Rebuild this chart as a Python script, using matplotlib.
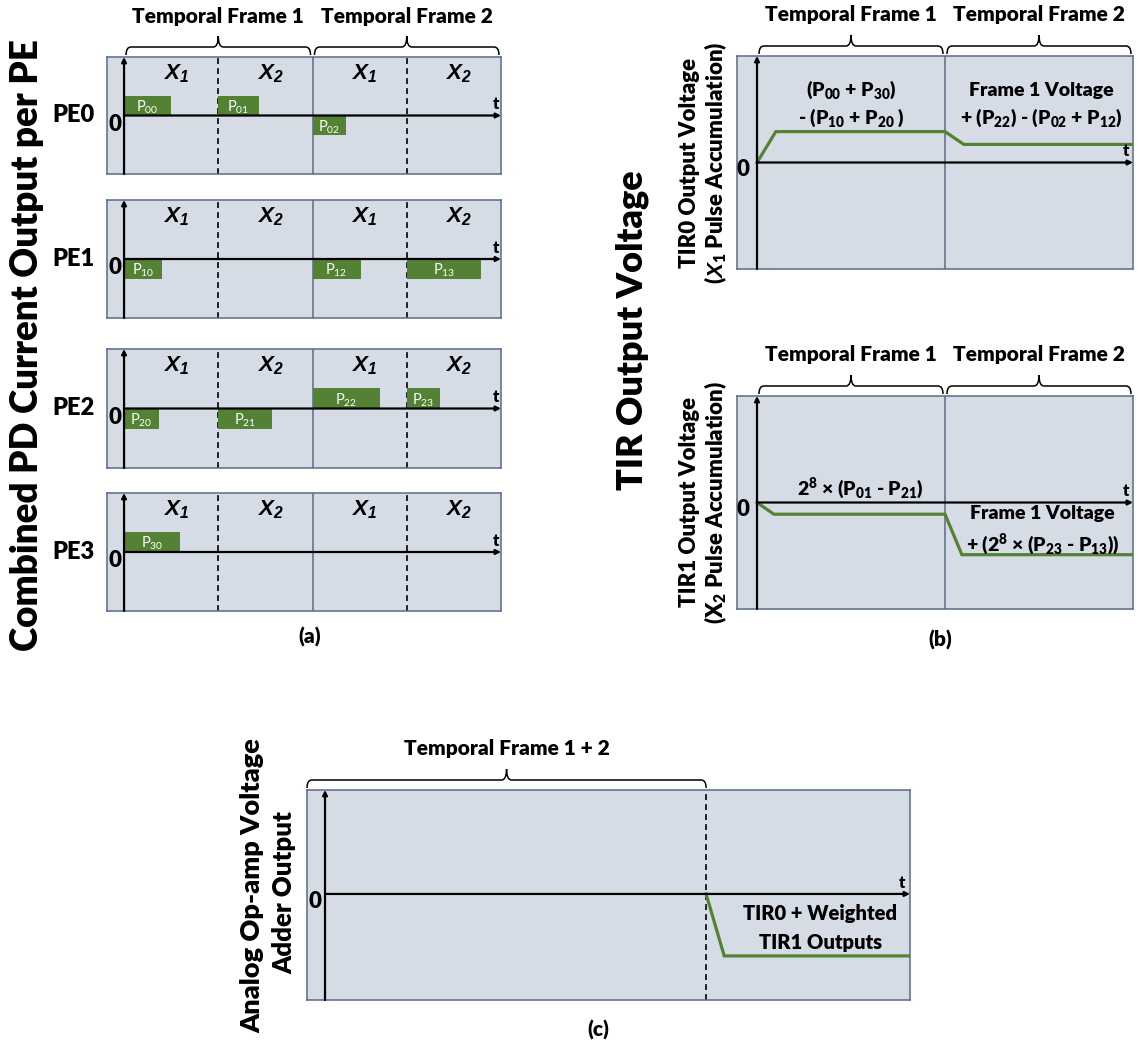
import matplotlib
matplotlib.use("Agg")
import matplotlib.pyplot as plt
from matplotlib.path import Path
from matplotlib.patches import PathPatch
from matplotlib.transforms import IdentityTransform

W, H = 1137, 1051
WT = 'heavy'
plt.rcParams['font.family'] = ['Lato', 'DejaVu Sans']
plt.rcParams['font.weight'] = WT
plt.rcParams['mathtext.fontset'] = 'custom'
plt.rcParams['mathtext.rm'] = 'Lato:' + WT
plt.rcParams['mathtext.it'] = 'Liberation Sans:bold:italic'
plt.rcParams['mathtext.bf'] = 'Lato:' + WT

# ---------------- data ----------------
# (a) photodetector current pulses per processing element
pe_names = ['PE0', 'PE1', 'PE2', 'PE3']
slot_labels = ['X$_{\\mathregular{1}}$', 'X$_{\\mathregular{2}}$',
               'X$_{\\mathregular{1}}$', 'X$_{\\mathregular{2}}$']
pulse_ids = [['00', '01', '02'], ['10', '12', '13'], ['20', '21', '22', '23'], ['30']]
pulse_starts = [[0, 1, 2], [0, 2, 3], [0, 1, 2, 3], [0]]          # slot index
pulse_widths = [[0.50, 0.43, 0.36], [0.40, 0.51, 0.79],
                [0.37, 0.57, 0.72, 0.35], [0.59]]                  # in slots
pulse_amps = [[0.34, 0.34, -0.34], [-0.34, -0.34, -0.34],
              [-0.34, -0.34, 0.34, 0.34], [0.34]]

# (b) TIR output voltages (time in frames)
tir0_t = [0.0, 0.10, 1.00, 1.10, 2.00]
tir0_v = [0.0, 0.29, 0.29, 0.17, 0.17]
tir1_t = [0.0, 0.09, 1.00, 1.09, 2.00]
tir1_v = [0.0, -0.11, -0.11, -0.49, -0.49]

# (c) op-amp adder output
adder_t = [2.00, 2.095, 3.07]
adder_v = [0.0, -0.59, -0.59]

frame_titles = ['Temporal Frame 1', 'Temporal Frame 2']

# ---------------- style ----------------
BG = '#D6DCE5'
EDGE = '#5A6A86'
GREEN = '#548235'
HDR = 15

fig = plt.figure(figsize=(W / 100, H / 100), dpi=100)
fig.patch.set_facecolor('white')


def px_axes(x0, y0, x1, y1):
    ax = fig.add_axes([x0 / W, 1 - y1 / H, (x1 - x0) / W, (y1 - y0) / H])
    ax.set_facecolor(BG)
    for s in ax.spines.values():
        s.set_color(EDGE)
        s.set_linewidth(1.1)
    ax.set_xticks([])
    ax.set_yticks([])
    return ax


def draw_axes_arrows(ax):
    x0, x1 = ax.get_xlim()
    y0, y1 = ax.get_ylim()
    kw = dict(arrowstyle='-|>', color='black', lw=1.6, mutation_scale=7,
              shrinkA=0, shrinkB=0)
    ax.annotate('', xy=(x1, 0), xytext=(0, 0), arrowprops=kw, annotation_clip=False)
    ax.annotate('', xy=(0, y1), xytext=(0, y0), arrowprops=kw, annotation_clip=False)


def brace(ax, xa, xb, inset=2, lo=2, mid=10, tip=21, r=5):
    Xa = ax.transData.transform((xa, 0))[0] + inset
    Xb = ax.transData.transform((xb, 0))[0] - inset
    top = ax.transAxes.transform((0, 1))[1]
    Xc = 0.5 * (Xa + Xb)
    yb, ym, yt = top + lo, top + mid, top + tip
    verts = [(Xa, yb), (Xa, ym), (Xa + r, ym), (Xc - r, ym),
             (Xc, ym), (Xc, yt), (Xc, ym), (Xc + r, ym),
             (Xb - r, ym), (Xb, ym), (Xb, yb)]
    codes = [Path.MOVETO, Path.CURVE3, Path.CURVE3, Path.LINETO,
             Path.CURVE3, Path.CURVE3, Path.CURVE3, Path.CURVE3,
             Path.LINETO, Path.CURVE3, Path.CURVE3]
    fig.add_artist(PathPatch(Path(verts, codes), fc='none', ec='black', lw=1.1,
                             transform=IdentityTransform()))


def header(ax, xc, text, off_px=40, size=HDR):
    ax.annotate(text, xy=(xc, 1), xycoords=('data', 'axes fraction'),
                xytext=(0, off_px * 0.72), textcoords='offset points',
                ha='center', va='center', fontsize=size, fontweight=WT,
                annotation_clip=False)


# ---------------- (a) ----------------
pe_boxes = [(57, 174), (200, 318), (349, 468), (493, 611)]
slot_px = 94.0
for i, (yt, yb) in enumerate(pe_boxes):
    ax = px_axes(107, yt, 501, yb)
    ax.set_xlim(-17 / slot_px, 4.0)
    ax.set_ylim(-1, 1)
    ax.axvline(1, color='black', lw=1.2, ls=(0, (3.5, 2.5)))
    ax.axvline(3, color='black', lw=1.2, ls=(0, (3.5, 2.5)))
    ax.axvline(2, color=EDGE, lw=1.1)
    ax.bar(pulse_starts[i], pulse_amps[i], width=pulse_widths[i], align='edge',
           color=GREEN, edgecolor='none', zorder=2)
    for s, w, a, pid in zip(pulse_starts[i], pulse_widths[i], pulse_amps[i], pulse_ids[i]):
        ax.text(s + w / 2, a / 2 - 0.03, 'P$_{\\mathregular{' + pid + '}}$', color='white',
                fontsize=10.5, fontweight='normal', ha='center', va='center', zorder=3)
    for k, lab in enumerate(slot_labels):
        ax.text(k + 0.55, 0.72, lab, fontsize=16, fontstyle='italic', fontweight='bold',
                family='Liberation Sans', ha='center', va='center')
    draw_axes_arrows(ax)
    ax.text(-0.095, -0.15, '0', fontsize=16, fontweight=WT, ha='center', va='center')
    ax.text(3.95, 0.19, 't', fontsize=12, fontweight=WT, ha='center', va='center')
    ax.annotate(pe_names[i], xy=(0, 0), xycoords=('axes fraction', 'data'),
                xytext=(-34 * 0.72, 0), textcoords='offset points',
                ha='center', va='center', fontsize=17, fontweight=WT)
    if i == 0:
        brace(ax, 0, 2)
        brace(ax, 2, 4)
        header(ax, 1, frame_titles[0])
        header(ax, 3, frame_titles[1])

fig.text(27 / W, 1 - 345 / H, 'Combined PD Current Output per PE', rotation=90,
         fontsize=26.5, fontweight=WT, ha='center', va='center')
fig.text(310 / W, 1 - 637 / H, '(a)', fontsize=15, fontweight=WT, ha='center', va='center')

# ---------------- (b) ----------------
frame_px = 188.0
tir_specs = [
    ((56, 269), tir0_t, tir0_v,
     [(0.50, 0.68, '(P$_{\\mathregular{00}}$ + P$_{\\mathregular{30}}$)'),
      (0.50, 0.42, '- (P$_{\\mathregular{10}}$ + P$_{\\mathregular{20}}$ )'),
      (1.51, 0.68, 'Frame 1 Voltage'),
      (1.51, 0.42, '+ (P$_{\\mathregular{22}}$) - (P$_{\\mathregular{02}}$ + P$_{\\mathregular{12}}$)')],
     'TIR0 Output Voltage', '($X_1$ Pulse Accumulation)'),
    ((396, 609), tir1_t, tir1_v,
     [(0.55, 0.13, '2$^{\\mathregular{8}}$ × (P$_{\\mathregular{01}}$ - P$_{\\mathregular{21}}$)'),
      (1.52, -0.10, 'Frame 1 Voltage'),
      (1.52, -0.39, '+ (2$^{\\mathregular{8}}$ × (P$_{\\mathregular{23}}$ - P$_{\\mathregular{13}}$))')],
     'TIR1 Output Voltage', '(X$_{\\mathregular{2}}$ Pulse Accumulation)'),
]
for (yt, yb), tt, vv, notes, lab1, lab2 in tir_specs:
    ax = px_axes(737, yt, 1133, yb)
    ax.set_xlim(-20 / frame_px, 2.0)
    ax.set_ylim(-1, 1)
    ax.axvline(1, color=EDGE, lw=1.1)
    ax.plot(tt, vv, color=GREEN, lw=2.3, solid_joinstyle='miter', zorder=3)
    draw_axes_arrows(ax)
    for x, y, s in notes:
        ax.text(x, y, s, fontsize=14, fontweight=WT, ha='center', va='center')
    ax.text(-0.072, -0.07, '0', fontsize=16, fontweight=WT, ha='center', va='center')
    ax.text(1.96, 0.11, 't', fontsize=12, fontweight=WT, ha='center', va='center')
    brace(ax, 0, 1)
    brace(ax, 1, 2)
    header(ax, 0.5, frame_titles[0], off_px=41)
    header(ax, 1.5, frame_titles[1], off_px=41)
    yc = 1 - 0.5 * (yt + yb) / H
    fig.text(690 / W, yc, lab1, rotation=90, fontsize=16, fontweight=WT,
             ha='center', va='center')
    fig.text(716 / W, yc, lab2, rotation=90, fontsize=16, fontweight=WT,
             ha='center', va='center')

fig.text(632 / W, 1 - 330 / H, 'TIR Output Voltage', rotation=90, fontsize=26,
         fontweight=WT, ha='center', va='center')
fig.text(940 / W, 1 - 640 / H, '(b)', fontsize=15, fontweight=WT, ha='center', va='center')

# ---------------- (c) ----------------
cpx = 190.5
ax = px_axes(307, 790, 910, 1000)
ax.set_xlim(-18 / cpx, 3.07)
ax.set_ylim(-1.01, 0.99)
ax.axvline(2, color='black', lw=1.2, ls=(0, (3.5, 2.5)))
ax.plot(adder_t, adder_v, color=GREEN, lw=2.3, solid_joinstyle='miter', zorder=3)
draw_axes_arrows(ax)
ax.text(-0.05, -0.07, '0', fontsize=16, fontweight=WT, ha='center', va='center')
ax.text(3.03, 0.1, 't', fontsize=12, fontweight=WT, ha='center', va='center')
ax.text(2.6, -0.19, 'TIR0 + Weighted', fontsize=14.5, fontweight=WT, ha='center', va='center')
ax.text(2.6, -0.46, 'TIR1 Outputs', fontsize=14.5, fontweight=WT, ha='center', va='center')
brace(ax, -18 / cpx, 2, inset=0)
header(ax, 0.953, 'Temporal Frame 1 + 2', off_px=42)
fig.text(252 / W, 1 - 886 / H, 'Analog Op-amp Voltage', rotation=90, fontsize=19.5,
         fontweight=WT, ha='center', va='center')
fig.text(284 / W, 1 - 893 / H, 'Adder Output', rotation=90, fontsize=18.5,
         fontweight=WT, ha='center', va='center')
fig.text(598 / W, 1 - 1030 / H, '(c)', fontsize=15, fontweight=WT, ha='center', va='center')

fig.savefig('out.png', dpi=100, facecolor='white')
